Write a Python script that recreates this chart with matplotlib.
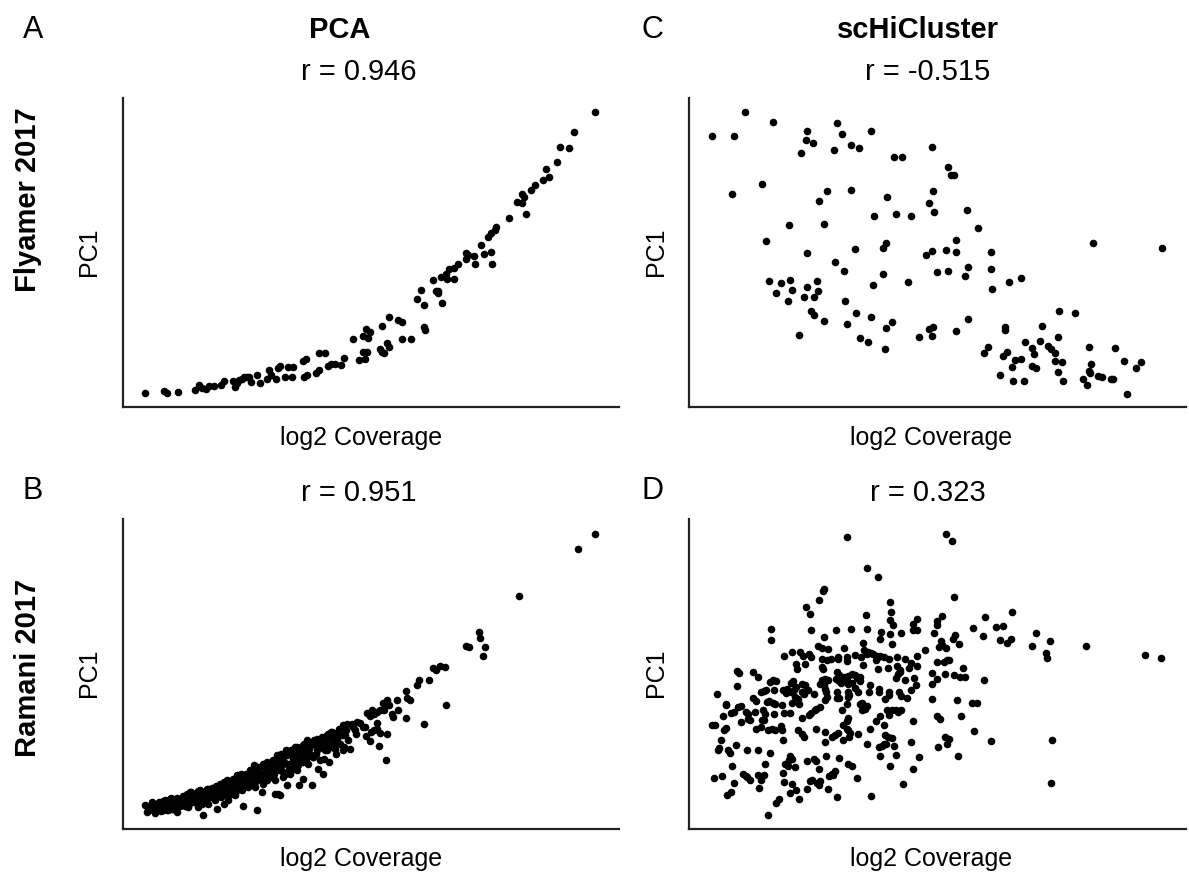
import numpy as np
import matplotlib
matplotlib.use("Agg")
import matplotlib.pyplot as plt

plt.rcParams['font.family'] = ['Liberation Sans', 'DejaVu Sans']

# (log2 coverage, PC1) per cell, arbitrary units
pca_flyamer = np.array([
    (75, 50), (133, 57), (142, 52), (173, 54), (225, 60), (237, 74), (245, 67), (258, 62),
    (266, 73), (282, 72), (303, 76), (312, 86), (340, 86), (345, 70), (352, 80), (358, 90),
    (367, 94), (372, 100), (380, 98), (388, 100), (393, 85), (410, 105), (420, 80), (440, 92),
    (446, 120), (452, 105), (468, 92), (474, 125), (480, 132), (495, 100), (505, 130), (515, 98),
    (520, 130), (548, 148), (558, 154), (552, 100), (562, 104), (588, 112), (598, 120), (597, 170),
    (615, 170), (625, 133), (633, 138), (645, 138), (663, 134), (673, 157), (698, 212), (717, 150),
    (728, 222), (735, 152), (738, 244), (744, 215), (730, 173), (742, 175), (750, 235),
    (785, 252), (785, 175), (780, 182), (792, 170), (802, 200), (808, 190), (808, 280), (835, 270),
    (845, 265), (845, 212), (873, 214), (890, 333), (902, 360), (913, 314), (913, 248), (916, 240),
    (938, 390), (948, 356), (955, 350), (955, 358), (965, 320), (962, 400), (978, 407), (980, 394),
    (988, 423), (1002, 393), (1002, 425), (1013, 438), (1038, 470), (1038, 453), (1045, 465),
    (1062, 462), (1066, 438), (1083, 494), (1092, 469), (1113, 473), (1116, 438), (1105, 518),
    (1112, 532), (1125, 540), (1128, 550), (1166, 575), (1190, 623), (1205, 648), (1207, 620),
    (1213, 640), (1217, 588), (1234, 660), (1244, 674), (1270, 690), (1278, 723), (1287, 698),
    (1312, 744), (1321, 788), (1347, 785), (1361, 834), (1425, 893),
])

pca_ramani = np.array([
    (75, 75), (82, 55), (90, 65), (95, 80), (105, 52), (110, 70), (118, 85), (125, 65), (130, 75),
    (135, 90), (140, 60), (148, 72), (152, 98), (158, 65), (165, 80), (170, 55), (175, 90), (180, 72),
    (188, 100), (192, 82), (200, 90), (205, 70), (212, 115), (215, 98), (222, 85), (228, 105),
    (235, 118), (240, 90), (245, 80), (250, 47), (255, 105), (262, 125), (265, 80), (270, 100),
    (278, 112), (285, 90), (290, 65), (295, 120), (302, 100), (308, 130), (312, 80), (318, 110),
    (322, 140), (330, 120), (335, 145), (340, 130), (345, 105), (350, 160), (355, 135), (360, 152),
    (365, 120), (370, 72), (372, 160), (380, 138), (388, 150), (395, 165), (400, 180), (405, 130),
    (410, 60), (412, 190), (418, 160), (425, 115), (430, 170), (435, 195), (440, 150), (445, 175),
    (450, 192), (455, 160), (460, 180), (465, 110), (470, 185), (475, 215), (480, 105), (485, 195),
    (490, 220), (495, 170), (498, 240), (505, 200), (510, 170), (515, 225), (520, 215), (525, 250),
    (530, 180), (538, 135), (540, 210), (545, 240), (550, 155), (552, 260), (560, 235), (565, 200),
    (570, 260), (575, 135), (578, 220), (582, 270), (590, 240), (595, 185), (600, 260), (605, 280),
    (610, 170), (612, 215), (618, 255), (622, 240), (628, 205), (632, 295), (638, 275), (640, 260),
    (648, 230), (655, 295), (660, 260), (668, 315), (672, 250), (680, 320), (690, 245), (695, 320),
    (705, 300), (712, 325), (730, 310),
    (85, 60), (95, 85), (108, 68), (120, 80), (130, 62), (142, 85), (150, 95), (155, 65), (178, 90),
    (190, 102), (195, 72), (210, 115), (215, 90), (225, 105), (235, 70), (240, 120), (255, 90),
    (265, 125), (270, 105), (285, 95), (295, 110), (305, 135), (315, 115), (320, 150), (325, 92),
    (335, 130), (340, 145), (350, 165), (355, 125), (375, 155), (385, 130), (392, 170), (405, 145),
    (410, 160), (420, 190), (430, 140), (455, 195), (465, 150), (475, 110), (485, 210), (490, 175),
    (500, 135), (520, 185), (530, 230), (555, 250), (565, 230), (580, 220), (600, 210), (615, 240),
    (622, 285), (635, 295), (668, 240), (675, 285),
    (88, 72), (100, 62), (112, 80), (122, 58), (128, 88), (138, 78), (145, 62), (160, 88), (168, 70),
    (172, 98), (185, 82), (198, 95), (202, 108), (208, 80), (218, 110), (230, 92), (238, 102),
    (248, 112), (252, 95), (258, 115), (268, 115), (275, 128), (282, 105), (288, 132), (298, 118),
    (300, 140), (310, 108), (312, 145), (328, 135), (332, 110), (338, 155), (345, 140), (348, 118),
    (358, 145), (362, 168), (368, 132), (378, 170), (382, 148), (390, 182), (398, 155), (402, 195),
    (398, 140), (415, 175), (422, 150), (428, 200), (438, 180), (442, 205), (448, 160), (458, 210),
    (462, 170), (468, 200), (472, 225), (478, 180), (482, 230), (488, 160), (492, 205), (502, 225),
    (508, 185), (512, 240), (518, 200), (528, 215), (532, 250), (535, 195), (542, 225), (548, 255),
    (548, 205), (558, 215), (562, 270), (568, 245), (572, 225), (585, 255), (588, 230), (592, 275),
    (598, 248), (608, 265), (620, 270), (625, 290), (630, 250), (642, 290), (645, 245), (652, 275),
    (658, 305), (665, 285), (678, 300), (685, 270), (700, 310), (708, 290),
    (720, 322), (735, 310), (738, 282), (750, 268), (752, 295), (762, 302), (772, 323), (772, 305),
    (778, 253), (780, 292), (797, 210), (802, 288), (742, 353), (750, 342), (755, 360), (762, 348),
    (770, 355), (780, 362), (788, 382), (792, 360), (800, 392), (802, 380), (808, 375), (815, 350),
    (820, 340), (830, 392), (835, 360), (857, 418), (860, 398), (870, 390), (857, 337), (892, 435),
    (898, 450), (912, 319), (928, 452), (940, 488), (948, 480), (960, 494), (975, 489), (978, 376),
    (1038, 552), (1047, 550), (1078, 595), (1080, 578), (1096, 550), (1089, 522), (1198, 703),
    (1375, 844), (1425, 889),
])

schic_flyamer = np.array([
    (80, 823), (147, 823), (180, 893), (265, 863), (140, 649), (230, 678), (243, 508), (252, 387),
    (272, 350), (287, 382), (310, 328), (315, 390), (322, 360), (313, 556), (343, 224), (349, 770),
    (362, 811), (366, 836), (383, 802), (366, 472), (365, 368), (357, 339), (378, 296), (387, 286),
    (387, 338), (396, 388), (399, 357), (402, 627), (418, 557), (418, 266), (425, 656), (447, 781),
    (450, 444), (455, 862), (472, 827), (477, 417), (479, 326), (485, 259), (498, 796), (499, 659),
    (511, 484), (512, 291), (521, 787), (524, 216), (549, 205), (557, 838), (557, 279), (565, 375),
    (567, 583), (594, 486), (595, 407), (604, 502), (603, 247), (606, 639), (601, 183), (621, 265),
    (628, 758), (650, 758), (632, 589), (670, 383), (678, 583), (703, 220), (722, 465), (731, 242),
    (732, 622), (741, 788), (741, 478), (741, 222), (745, 658), (748, 594), (745, 248),
    (789, 730), (798, 706), (808, 706), (845, 601), (878, 546), (813, 509), (784, 479), (814, 473),
    (757, 415), (790, 418), (849, 428), (841, 402), (917, 474), (919, 422), (921, 362), (971, 383),
    (1007, 395), (849, 272), (813, 236), (960, 248), (961, 240), (908, 190), (896, 172), (953, 163),
    (967, 173), (945, 104), (982, 130), (991, 150), (1007, 154), (984, 87), (1017, 88), (1020, 203),
    (1041, 185), (1046, 168), (1042, 132), (1053, 125), (1066, 208), (1071, 251), (1088, 192),
    (1097, 184), (1109, 171), (1111, 147), (1118, 218), (1121, 297), (1118, 115), (1131, 144),
    (1133, 87), (1170, 291), (1195, 92), (1205, 75), (1211, 188), (1211, 117), (1216, 111),
    (1219, 138), (1223, 502), (1239, 103), (1250, 98), (1277, 94), (1283, 92), (1291, 187),
    (1317, 147), (1326, 49), (1352, 126), (1367, 144), (1430, 486),
])

schic_ramani = np.array([
    (487, 880), (546, 787), (578, 759), (418, 722), (413, 716), (402, 689), (614, 683), (363, 669),
    (375, 647), (617, 655), (543, 644), (615, 630), (623, 617), (697, 632), (685, 620), (683, 602),
    (697, 600), (257, 603), (379, 602), (453, 601), (498, 605), (545, 605), (588, 595), (614, 590),
    (648, 593), (258, 570), (416, 579), (586, 574), (533, 561), (622, 560), (400, 552), (410, 548),
    (428, 545), (477, 548), (538, 540), (548, 535), (558, 532), (565, 528), (575, 524), (585, 522),
    (597, 520), (720, 542), (297, 522), (322, 535), (345, 535), (353, 522), (372, 528), (378, 520),
    (411, 513), (425, 512), (437, 515), (458, 514), (460, 520), (487, 520), (487, 508), (509, 526),
    (527, 520), (545, 528), (573, 510), (578, 520), (611, 515), (637, 519), (660, 515), (677, 502),
    (697, 522), (360, 499), (333, 499), (578, 484), (609, 488), (637, 494), (644, 482), (645, 474),
    (640, 470), (673, 488), (697, 492), (740, 472), (155, 479), (163, 473), (203, 476), (218, 460),
    (337, 483), (412, 491), (414, 484), (457, 475), (462, 465), (488, 464), (500, 468), (511, 466),
    (525, 460), (533, 495), (263, 450), (273, 448), (255, 444), (325, 448), (318, 443), (333, 430),
    (350, 438), (360, 435), (410, 450), (420, 455), (430, 450), (405, 440), (418, 437), (452, 455),
    (462, 448), (467, 442), (478, 460), (485, 450), (490, 438), (500, 442), (515, 457), (525, 448),
    (555, 437), (632, 458), (660, 450), (688, 457), (693, 437), (742, 438), (155, 434), (228, 415),
    (238, 418), (243, 420), (266, 420), (295, 420), (302, 411), (307, 423), (317, 415), (328, 422),
    (350, 415), (357, 410), (368, 420), (386, 408), (420, 425), (423, 415), (425, 400), (456, 415),
    (462, 398), (490, 415), (493, 405), (509, 426), (520, 415), (551, 414), (583, 425), (583, 415),
    (611, 414), (613, 405), (642, 415), (648, 404), (665, 397), (678, 420), (742, 394), (96, 408),
    (122, 380), (124, 375), (137, 352), (148, 356), (158, 370), (167, 372), (183, 355), (190, 348),
    (204, 396), (212, 387), (233, 360), (246, 385), (252, 387), (265, 382), (270, 378), (292, 375),
    (297, 353), (316, 352), (322, 382), (330, 400), (338, 395), (342, 380), (352, 338), (372, 345),
    (378, 352), (390, 362), (393, 365), (406, 370), (419, 391), (457, 397), (471, 360), (487, 380),
    (490, 400), (525, 380), (530, 383), (535, 370), (540, 365), (545, 372), (530, 362), (600, 393),
    (605, 360), (620, 360), (611, 345), (638, 354), (648, 362), (632, 360), (82, 316), (90, 315),
    (113, 343), (122, 308), (169, 324), (188, 335), (195, 330), (210, 355), (212, 305), (230, 330),
    (238, 332), (228, 310), (241, 350), (250, 300), (260, 305), (270, 300), (266, 348), (287, 312),
    (290, 300), (293, 270), (340, 300), (350, 290), (356, 280), (392, 305), (420, 295), (420, 265),
    (440, 280), (450, 285), (460, 293), (475, 315), (485, 305), (490, 300), (495, 293), (490, 337),
    (487, 328), (475, 270), (493, 280), (520, 290), (547, 260), (555, 303), (573, 327), (586, 343),
    (598, 315), (600, 285), (602, 260), (608, 280), (622, 277), (626, 252), (685, 327), (678, 265),
    (108, 270), (118, 300), (100, 242), (103, 248), (128, 242), (134, 232), (153, 257), (185, 242),
    (218, 242), (256, 232), (316, 224), (322, 215), (313, 210), (300, 198), (310, 192), (330, 190),
    (367, 207), (388, 215), (392, 208), (423, 224), (463, 218), (490, 200), (500, 192), (583, 250),
    (590, 252), (597, 258), (585, 223), (616, 192), (632, 225), (703, 220), (684, 184), (140, 192),
    (88, 157), (112, 162), (175, 170), (182, 163), (186, 160), (195, 152), (218, 167), (228, 150),
    (238, 167), (241, 198), (221, 127), (148, 143), (125, 107), (138, 115), (294, 172), (297, 145),
    (322, 138), (315, 112), (332, 120), (342, 95), (367, 123), (375, 148), (380, 152), (396, 142),
    (404, 148), (401, 135), (428, 123), (432, 162), (440, 170), (450, 178), (445, 165), (402, 185),
    (455, 100), (516, 157), (557, 102), (654, 138), (272, 83), (281, 94), (250, 45),
    (783, 889), (802, 866), (808, 699), (770, 642), (755, 627), (757, 615), (748, 593), (809, 587),
    (805, 575), (823, 559), (767, 567), (763, 550), (772, 555), (782, 547), (863, 606), (901, 639),
    (895, 584), (933, 611), (953, 612), (945, 570), (965, 563), (979, 574), (982, 653), (1053, 593),
    (1042, 552), (1094, 568), (1084, 532), (1085, 517), (1203, 552), (1379, 527), (1429, 518),
    (757, 505), (778, 505), (785, 510), (792, 510), (834, 487), (757, 455), (779, 469), (806, 467),
    (825, 459), (841, 459), (898, 450), (817, 390), (861, 382), (875, 382), (757, 342), (764, 335),
    (829, 344), (867, 299), (779, 280), (792, 275), (758, 250), (786, 258), (917, 267), (818, 223),
    (1102, 272), (1099, 141),
])

r_values = ["r = 0.946", "r = 0.951", "r = -0.515", "r = 0.323"]
methods = ["PCA", "scHiCluster"]
datasets = ["Flyamer 2017", "Ramani 2017"]
letters = ["A", "B", "C", "D"]

W, H = 1189, 876
fig = plt.figure(figsize=(W / 100, H / 100), dpi=100)


def fx(px):
    return px / W


def fy(py):
    return 1 - py / H


# column/row placement of each panel in pixels
col_left = [122.5, 689]
row_top = [98, 519]
letter_x = [33, 652]
ax_w, ax_h = 496.5, 309.5
xlims = [(8, 1497), (12, 1501)]
ylims = [(7.5, 936), (6, 933)]

panels = [[pca_flyamer, pca_ramani], [schic_flyamer, schic_ramani]]
spine_col = '#222222'

k = 0
for c in range(2):
    for r in range(2):
        left, top = col_left[c], row_top[r]
        ax = fig.add_axes([fx(left), fy(top + ax_h), ax_w / W, ax_h / H])
        pts = panels[c][r]
        ax.scatter(pts[:, 0], pts[:, 1], s=30, color='black', linewidths=0)
        ax.set_xlim(*xlims[c])
        ax.set_ylim(*ylims[r])
        ax.set_xticks([])
        ax.set_yticks([])
        for side in ['top', 'right']:
            ax.spines[side].set_visible(False)
        for side in ['left', 'bottom']:
            ax.spines[side].set_color(spine_col)
            ax.spines[side].set_linewidth(1.6)

        cx = left + 236 + 3 * c
        fig.text(fx(cx), fy(top - 26), r_values[k], ha='center', va='center', fontsize=21)
        fig.text(fx(cx + 3), fy(top + 340), "log2 Coverage", ha='center', va='center', fontsize=18)
        fig.text(fx(left - 33), fy(top + 154), "PC1", ha='center', va='center',
                 rotation=90, fontsize=18)
        fig.text(fx(letter_x[c]), fy(top - 28 if r else top - 68), letters[k],
                 ha='center', va='center', fontsize=22)
        k += 1

fig.text(fx(340), fy(30), methods[0], ha='center', va='center', fontsize=21, fontweight='bold')
fig.text(fx(918), fy(30), methods[1], ha='center', va='center', fontsize=21, fontweight='bold')
fig.text(fx(28), fy(200), datasets[0], ha='center', va='center', rotation=90,
         fontsize=21, fontweight='bold')
fig.text(fx(28), fy(668), datasets[1], ha='center', va='center', rotation=90,
         fontsize=21, fontweight='bold')

fig.savefig("out.png", dpi=100)
